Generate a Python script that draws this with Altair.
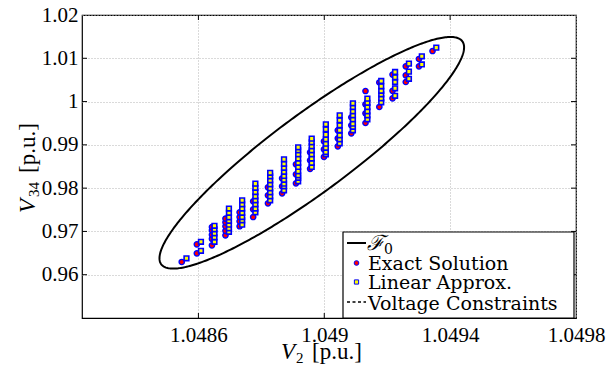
import altair as alt
import numpy as np
import pandas as pd

# ---------------- data ----------------
X_DOMAIN = [1.04823, 1.0498]
Y_DOMAIN = [0.95, 1.02]
X_TICKS = [1.0486, 1.049, 1.0494, 1.0498]
Y_TICKS = [0.96, 0.97, 0.98, 0.99, 1.0, 1.01, 1.02]

# V2 of each column of operating points (exact solution / linear approximation)
EXACT_V2 = [1.048547, 1.048595, 1.048643, 1.048686, 1.048731, 1.048774, 1.048821,
            1.048866, 1.048910, 1.048955, 1.048999, 1.049043, 1.049086, 1.049131,
            1.049175, 1.049217, 1.049259, 1.049301, 1.049344]
LINEAR_V2 = [1.048562, 1.048608, 1.048651, 1.048697, 1.048739, 1.048781, 1.048828,
             1.048872, 1.048917, 1.048960, 1.049005, 1.049049, 1.049091, 1.049137,
             1.049181, 1.049225, 1.049269, 1.049310, 1.049356]

EXACT_V34 = [
    [0.96294],
    [0.96495, 0.96703],
    [0.96680, 0.96830, 0.96922, 0.97026, 0.97102],
    [0.96911, 0.97015, 0.97119, 0.97211, 0.97296],
    [0.97119, 0.97234, 0.97333, 0.97442],
    [0.97333, 0.97511, 0.97696],
    [0.97650, 0.97835, 0.98020],
    [0.97881, 0.98043, 0.98227],
    [0.98112, 0.98320, 0.98551],
    [0.98447, 0.98643, 0.98828],
    [0.98720, 0.98897, 0.99082],
    [0.98967, 0.99152, 0.99336],
    [0.99267, 0.99452, 0.99637],
    [0.99505, 0.99729, 0.99937, 1.00244],
    [0.99875, 1.00441],
    [1.00076, 1.00249, 1.00623],
    [1.00452, 1.00607, 1.00815],
    [1.00815, 1.00984],
    [1.01168],
]
LINEAR_V34 = [
    [0.96379],
    [0.96552, 0.96760],
    [0.96760, 0.96864, 0.96957, 0.97049, 0.97130],
    [0.96992, 0.97072, 0.97158, 0.97246, 0.97327, 0.97430, 0.97528],
    [0.97158, 0.97257, 0.97333, 0.97430, 0.97528, 0.97627, 0.97719],
    [0.97442, 0.97528, 0.97627, 0.97719, 0.97812, 0.97911, 0.98008, 0.98105],
    [0.97719, 0.97812, 0.97904, 0.97996, 0.98089, 0.98181, 0.98274, 0.98354],
    [0.97950, 0.98043, 0.98105, 0.98193, 0.98281, 0.98378, 0.98470, 0.98562, 0.98666],
    [0.98158, 0.98239, 0.98297, 0.98389, 0.98489, 0.98586, 0.98683, 0.98782, 0.98874, 0.98944],
    [0.98489, 0.98586, 0.98683, 0.98782, 0.98874, 0.98967, 0.99059, 0.99145],
    [0.98782, 0.98835, 0.98932, 0.99029, 0.99128, 0.99237, 0.99359, 0.99475],
    [0.99036, 0.99128, 0.99221, 0.99336, 0.99452, 0.99567, 0.99683],
    [0.99336, 0.99417, 0.99491, 0.99591, 0.99683, 0.99775, 0.99875, 0.99960],
    [0.99591, 0.99683, 0.99775, 0.99875, 0.99972, 1.00069],
    [0.99983, 1.00076, 1.00168, 1.00249, 1.00353, 1.00475],
    [1.00133, 1.00307, 1.00452, 1.00561, 1.00683],
    [1.00526, 1.00692, 1.00877],
    [1.00857, 1.01046],
    [1.01247],
]

# ellipse F0: centre and two conjugate semi-axis vectors (V2, V34)
ELLIPSE_CENTER = (1.0489603, 0.988165)
ELLIPSE_AXIS_A = (4.784e-4, 0.025759)
ELLIPSE_AXIS_B = (7.362e-5, -0.007243)

# ---------------- tables ----------------
exact_df = pd.DataFrame(
    [(x, y) for x, ys in zip(EXACT_V2, EXACT_V34) for y in ys], columns=["v2", "v34"])
linear_df = pd.DataFrame(
    [(x, y) for x, ys in zip(LINEAR_V2, LINEAR_V34) for y in ys], columns=["v2", "v34"])

t = np.linspace(0, 2 * np.pi, 361)
ellipse_df = pd.DataFrame({
    "order": np.arange(len(t)),
    "v2": ELLIPSE_CENTER[0] + ELLIPSE_AXIS_A[0] * np.cos(t) + ELLIPSE_AXIS_B[0] * np.sin(t),
    "v34": ELLIPSE_CENTER[1] + ELLIPSE_AXIS_A[1] * np.cos(t) + ELLIPSE_AXIS_B[1] * np.sin(t),
})

xt_df = pd.DataFrame({"v2": X_TICKS[:-1]})
yt_df = pd.DataFrame({"v34": Y_TICKS[:-1]})
one = pd.DataFrame({"k": [0]})

W, H = 494, 303
LABEL_FONT = "Liberation Serif"
LEG_FONT = "DejaVu Serif"

xscale = alt.Scale(domain=X_DOMAIN, nice=False, zero=False)
yscale = alt.Scale(domain=Y_DOMAIN, nice=False, zero=False)
xaxis = alt.Axis(values=X_TICKS, format="~g", title=None, grid=True, ticks=False, domain=False,
                 labelFont=LABEL_FONT, labelFontSize=21, labelColor="black", labelPadding=6,
                 labelFlush=False, labelOverlap=False,
                 gridColor="#b4b4b4", gridDash=[1, 2], gridWidth=1)
yaxis = alt.Axis(values=Y_TICKS, format="~g", title=None, grid=True, ticks=False, domain=False,
                 labelFont=LABEL_FONT, labelFontSize=21, labelColor="black", labelPadding=4,
                 labelFlush=False, labelOverlap=False,
                 gridColor="#b4b4b4", gridDash=[1, 2], gridWidth=1)


def X(field="v2"):
    return alt.X(f"{field}:Q", scale=xscale, axis=xaxis)


def Y(field="v34"):
    return alt.Y(f"{field}:Q", scale=yscale, axis=yaxis)


ellipse = alt.Chart(ellipse_df).mark_line(color="black", strokeWidth=2).encode(
    x=X(), y=Y(), order="order:Q")

exact = alt.Chart(exact_df).mark_circle(
    size=28, fill="red", stroke="blue", strokeWidth=1.4, opacity=1).encode(x=X(), y=Y())
linear = alt.Chart(linear_df).mark_square(
    size=22, fill="yellow", stroke="blue", strokeWidth=1.6, opacity=1).encode(x=X(), y=Y())

# inward tick marks on all four sides
tick_b = alt.Chart(xt_df).mark_rule(color="black", strokeWidth=1).encode(
    x=X(), y=alt.value(H), y2=alt.value(H - 5))
tick_t = alt.Chart(xt_df).mark_rule(color="black", strokeWidth=1).encode(
    x=X(), y=alt.value(0), y2=alt.value(5))
tick_l = alt.Chart(yt_df).mark_rule(color="black", strokeWidth=1).encode(
    y=Y(), x=alt.value(0), x2=alt.value(5))
tick_r = alt.Chart(yt_df).mark_rule(color="black", strokeWidth=1).encode(
    y=Y(), x=alt.value(W), x2=alt.value(W - 5))

# legend
LX0, LX1, LY0, LY1 = 261, 492, 217, 303
leg_box = alt.Chart(one).mark_rect(fill="white", stroke="black", strokeWidth=1.2).encode(
    x=alt.value(LX0), x2=alt.value(LX1), y=alt.value(LY0), y2=alt.value(LY1))
leg_line = alt.Chart(one).mark_rule(color="black", strokeWidth=2).encode(
    x=alt.value(265), x2=alt.value(284), y=alt.value(228))
leg_dot = alt.Chart(one).mark_rule(color="black", strokeWidth=1.3, strokeDash=[3, 2.5]).encode(
    x=alt.value(265), x2=alt.value(284), y=alt.value(287))
leg_c = alt.Chart(one).mark_circle(size=22, fill="red", stroke="blue", strokeWidth=1, opacity=1).encode(
    x=alt.value(274.5), y=alt.value(248))
leg_s = alt.Chart(one).mark_square(size=18, fill="yellow", stroke="blue", strokeWidth=1, opacity=1).encode(
    x=alt.value(274.5), y=alt.value(267))


def txt(s, x, y, size=19, font=LEG_FONT, style="normal", angle=0, align="left"):
    return alt.Chart(one).mark_text(
        text=s, font=font, fontSize=size, fontStyle=style, angle=angle, align=align,
        baseline="alphabetic", color="black").encode(x=alt.value(x), y=alt.value(y))


leg_texts = [
    txt("\u2131", 285, 235, size=21, style="italic"),
    txt("0", 302, 239, size=14),
    txt("Exact Solution", 286, 254.5),
    txt("Linear Approx.", 286, 273.5),
    txt("Voltage Constraints", 286, 294.5),
]

# axis titles built from pieces (italic V with subscript)
titles = [
    txt("V", 199, 344, size=23, font=LABEL_FONT, style="italic"),
    txt("2", 214, 348, size=15, font=LABEL_FONT),
    txt("[p.u.]", 230, 344, size=23, font=LABEL_FONT),
    txt("V", -47, 198, size=23, font=LABEL_FONT, style="italic", angle=270),
    txt("34", -43, 182, size=15, font=LABEL_FONT, angle=270),
    txt("[p.u.]", -47, 158, size=23, font=LABEL_FONT, angle=270),
]

chart = alt.layer(
    ellipse, exact, linear, tick_b, tick_t, tick_l, tick_r,
    leg_box, leg_line, leg_dot, leg_c, leg_s, *leg_texts, *titles,
).properties(
    width=W, height=H,
    padding={"left": 82, "top": 15, "right": 37, "bottom": 48},
    autosize=alt.AutoSizeParams(type="none"),
    background="white",
).configure_view(stroke="black", strokeWidth=1.2)

chart.save("out.html", embed_options={"renderer": "svg", "actions": False})
